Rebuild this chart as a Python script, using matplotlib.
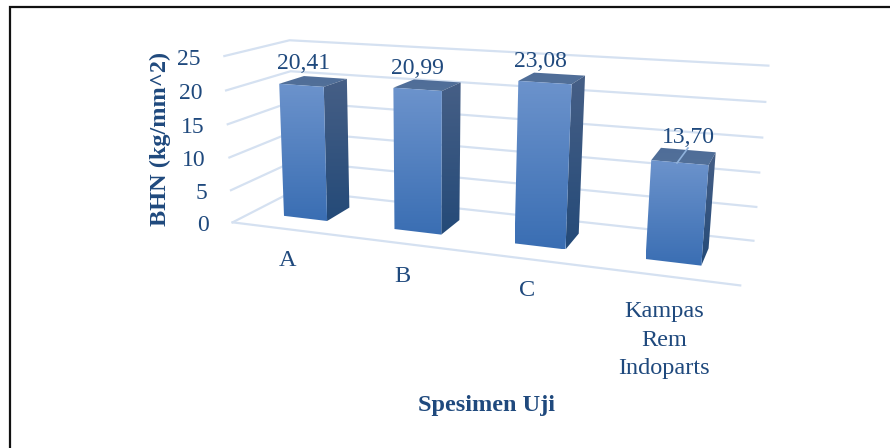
"""Hardness of brake pad specimens as a perspective 3D column chart."""

import matplotlib
matplotlib.use("Agg")
import matplotlib.pyplot as plt
import numpy as np
from matplotlib.colors import LinearSegmentedColormap
from matplotlib.patches import Polygon

categories = ["A", "B", "C", "Kampas\nRem\nIndoparts"]
hardness = [20.41, 20.99, 23.08, 13.70]
value_labels = ["20,41", "20,99", "23,08", "13,70"]
y_ticks = [0, 5, 10, 15, 20, 25]

INK = "#1F497D"
GRID = "#D5E1F1"
BAR_WIDTH = 0.40
BAR_DEPTH = (0.30, 0.70)

# (category, value, depth) -> pixel pairs that pin the camera of the 3D box
CAMERA_POINTS = [
    ((0, 0, 0), (235, 221)),
    ((4, 0, 0), (740, 287)),
    ((0, 0, 1), (292, 192)),
    ((4, 0, 1), (754, 239)),
    ((0, 25, 0), (222, 56)),
    ((0, 25, 1), (292, 40)),
    ((4, 25, 1), (768, 66)),
]


def fit_camera(points):
    rows = []
    for (x, y, z), (u, v) in points:
        w = [x, y, z, 1]
        rows.append(w + [0, 0, 0, 0] + [-u * c for c in w])
        rows.append([0, 0, 0, 0] + w + [-v * c for c in w])
    _, _, vt = np.linalg.svd(np.array(rows, dtype=float))
    return vt[-1].reshape(3, 4)


CAMERA = fit_camera(CAMERA_POINTS)


def project(x, y, z):
    u, v, w = CAMERA @ np.array([x, y, z, 1.0])
    return u / w, v / w


def shaded_face(ax, corners, top_color, bottom_color, zorder):
    """Fill a polygon with a vertical gradient."""
    corners = np.array(corners)
    cmap = LinearSegmentedColormap.from_list("face", [top_color, bottom_color])
    xmin, ymin = corners.min(axis=0)
    xmax, ymax = corners.max(axis=0)
    img = ax.imshow(
        np.linspace(0, 1, 128).reshape(-1, 1), cmap=cmap, aspect="auto",
        extent=(xmin, xmax, ymax, ymin), zorder=zorder, interpolation="bilinear",
    )
    clip = Polygon(corners, closed=True, transform=ax.transData,
                   facecolor="none", edgecolor="none")
    ax.add_patch(clip)
    img.set_clip_path(clip)


plt.rcParams["font.family"] = ["Liberation Serif", "DejaVu Serif"]
fig = plt.figure(figsize=(8.9, 4.48), dpi=100)
ax = fig.add_axes([0, 0, 1, 1])

# walls and floor gridlines
for tick in y_ticks:
    pts = [project(0, tick, 0), project(0, tick, 1), project(4, tick, 1)]
    ax.plot(*zip(*pts), color=GRID, lw=1.6, zorder=1, solid_joinstyle="miter")
    u, v = project(0, tick, 0)
    ax.text(u - 23.5, v + 3, str(tick), ha="right", va="center",
            fontsize=17, color=INK)
ax.plot(*zip(project(0, 0, 0), project(4, 0, 0)), color=GRID, lw=1.6, zorder=1)

# columns, value labels
label_offsets = [(-10, -18), (-10, -17), (-12, -17), (4, -19)]
for i, value in enumerate(hardness):
    x0, x1 = i + 0.5 - BAR_WIDTH / 2, i + 0.5 + BAR_WIDTH / 2
    z0, z1 = BAR_DEPTH
    z = 3 + i
    shaded_face(ax, [project(x0, value, z0), project(x1, value, z0),
                     project(x1, 0, z0), project(x0, 0, z0)],
                "#6C93CC", "#3A6EB3", z + 0.2)
    shaded_face(ax, [project(x1, value, z0), project(x1, value, z1),
                     project(x1, 0, z1), project(x1, 0, z0)],
                "#465F86", "#244A78", z + 0.1)
    shaded_face(ax, [project(x0, value, z0), project(x1, value, z0),
                     project(x1, value, z1), project(x0, value, z1)],
                "#4F6D98", "#527099", z)
    u, v = project(i + 0.5, value, (z0 + z1) / 2)
    dx, dy = label_offsets[i]
    ax.text(u + dx, v + dy, value_labels[i], ha="center", va="center",
            fontsize=17, color=INK, zorder=10)

# leader line for the shortest column
ax.plot([688, 677], [148, 163], color="#8FB2DC", lw=1.2, zorder=9)

# category labels
cat_positions = [(288, 261), (402, 276), (527, 290), (664, 340)]
for name, (u, v) in zip(categories, cat_positions):
    ax.text(u, v, name, ha="center", va="center", fontsize=17.5, color=INK,
            linespacing=1.44)

ax.text(486, 406, "Spesimen Uji", ha="center", va="center", fontsize=17.5,
        fontweight="bold", color=INK)
ax.text(160, 139, "BHN (kg/mm^2)", ha="center", va="center", rotation=90,
        fontsize=17.5, fontweight="bold", color=INK)

# outer frame, open to the right and below
ax.plot([9.5, 9.5, 890], [448, 7.5, 7.5], color="#111111", lw=1.6, zorder=12,
        solid_joinstyle="miter")

ax.set_xlim(0, 890)
ax.set_ylim(448, 0)
ax.axis("off")

fig.savefig("out.png", dpi=100)
